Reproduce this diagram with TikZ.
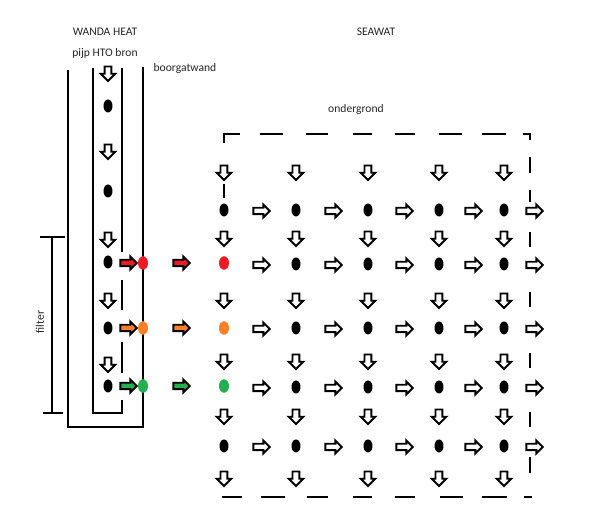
\documentclass[tikz,border=0pt]{standalone}
\usepackage{fontspec}
\setmainfont{Carlito}
\usetikzlibrary{shapes.geometric,shapes.arrows}
\definecolor{pred}{HTML}{ED1C24}
\definecolor{porange}{HTML}{FF7F27}
\definecolor{pgreen}{HTML}{22B14C}
\tikzset{
  darr/.style={single arrow,draw=black,fill=white,line width=1.1pt,inner sep=.05cm,
    single arrow head extend=.075cm,minimum height=.29cm,shape border rotate=270},
  rarr/.style={single arrow,draw=black,fill=white,line width=1.1pt,inner sep=.045cm,
    single arrow head extend=.065cm,minimum height=.33cm},
  dot/.style={ellipse,fill=black,inner sep=0pt,minimum width=.18cm,minimum height=.26cm},
  cdot/.style={ellipse,fill=#1,inner sep=0pt,minimum width=.2cm,minimum height=.27cm},
  lbl/.style={font=\fontsize{6.6}{8}\selectfont,text=black!85},
  bnd/.style={line width=1.6pt}
}
\begin{document}
\begin{tikzpicture}[x=.02cm,y=-.02cm]
\useasboundingbox (0,0) rectangle (600,516);
% labels
\node[lbl,anchor=base] (wanda) at (105,36) {WANDA HEAT};
\node[lbl,anchor=base] (pijp) at (105,57) {pijp HTO bron};
\node[lbl,anchor=base] (wand) at (185,72) {boorgatwand};
\node[lbl,anchor=base] (seawat) at (376,36) {SEAWAT};
\node[lbl,anchor=base] (ondergrond) at (356,113) {ondergrond};
\node[lbl,rotate=90] (filter) at (40,322) {filter};
% borehole and pipe
\draw[line width=.8pt] (68,70) -- (68,427) -- (143,427) -- (143,67);
\draw[line width=1.1pt] (93,68) -- (93,413) -- (122,413) -- (122,400);
\foreach \a/\b in {68/252,280/310,342/373}{\draw[line width=1.1pt] (122,\a) -- (122,\b);}
% filter
\draw[line width=1.1pt] (40,237) -- (65,237) (52,237) -- (52,413) (43,413) -- (63,413);
% pipe content
\foreach \y [count=\i] in {72,150,238,299,363}{\node[darr] (wd\i) at (108,\y) {};}
\foreach \y [count=\i] in {106,191,262,328,386}{\node[dot] (wp\i) at (108,\y) {};}
\foreach \y/\c [count=\i] in {263/pred,328/porange,386/pgreen}{
  \node[rarr,fill=\c] (ua\i) at (127,\y) {};
  \node[cdot=\c] (uc\i) at (143,\y) {};
  \node[rarr,fill=\c] (va\i) at (180,\y) {};
  \node[cdot=\c] (gc\i) at (224,\y) {};
}
% ondergrond boundary
\draw[bnd] (224,143) -- (224,134) -- (240,134) (523,134) -- (530,134) -- (530,140);
\draw[bnd] (224,184) -- (224,198);
\foreach \a/\b in {260/283,306/328,353/372,395/415,439/462,482/506}{\draw[bnd] (\a,134) -- (\b,134);}
\foreach \a/\b in {222/242,261/285,307/328,353/372,395/415,440/463,482/507,524/532}{\draw[bnd] (\a,497) -- (\b,497);}
\foreach \a/\b in {157/173,190/202,232/247,292/307,353/368,412/427,457/473}{\draw[bnd] (530,\a) -- (530,\b);}
% grid
\node[dot] (g1-1) at (224,210) {};
\node[dot] (g5-1) at (224,446) {};
\foreach \x [count=\c from 2] in {296,368,439,504}{
  \foreach \y [count=\r] in {210,264,328,387,446}{\node[dot] (g\r-\c) at (\x,\y) {};}
}
\foreach \x [count=\c] in {224,296,368,439,504}{
  \foreach \y [count=\r] in {171,237,299,360,415,477}{\node[darr] (gd\r-\c) at (\x,\y) {};}
}
\foreach \y [count=\r] in {211,265,329,388,447}{
  \foreach \x [count=\c] in {260,332,403,472,533}{\node[rarr] (gr\r-\c) at (\x,\y) {};}
}
\end{tikzpicture}
\end{document}
